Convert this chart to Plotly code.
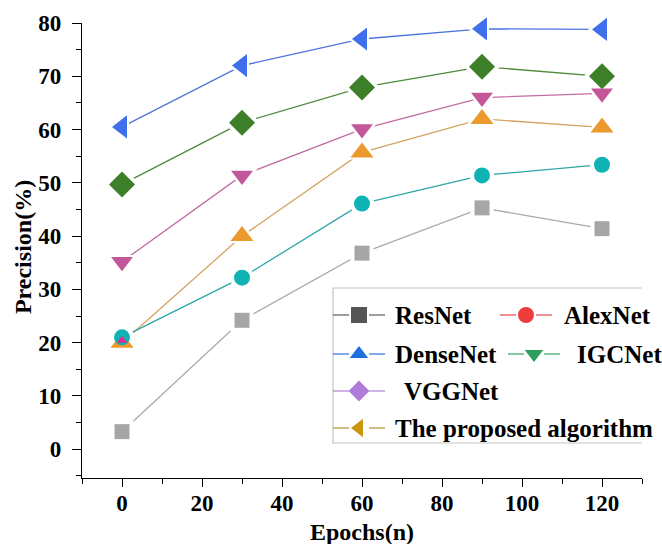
import plotly.graph_objects as go

# Epoch values and precision (%) for each network
epochs = [0, 30, 60, 90, 120]
resnet = [3.3, 24.2, 36.8, 45.3, 41.4]
alexnet = [21.0, 32.2, 46.1, 51.4, 53.4]
densenet = [60.5, 72.0, 77.0, 78.9, 78.8]
igcnet = [49.7, 61.3, 67.9, 71.8, 70.0]
vggnet = [35.2, 51.4, 60.1, 66.0, 66.8]
proposed = [20.0, 40.0, 55.7, 62.0, 60.4]
extra_x = [0]
extra_y = [20.4]

x_ticks = [0, 20, 40, 60, 80, 100, 120]
y_ticks = [0, 10, 20, 30, 40, 50, 60, 70, 80]

FONT = "Liberation Serif"

# drawing order: later entries sit on top
series = [
    ("ResNet", resnet, "square", "#A6A6A6", "#AAAAAA", 15),
    ("The proposed algorithm", proposed, "triangle-up", "#EB9A2E", "#D4A462", 20),
    ("AlexNet", alexnet, "circle", "#0FB3B3", "#2FA6A6", 16),
    ("DenseNet", densenet, "triangle-left", "#3F6FEA", "#4B74E0", 20),
    ("IGCNet", igcnet, "diamond", "#3E7F2A", "#4E8A3C", 20),
    ("VGGNet", vggnet, "triangle-down", "#C4579A", "#C26CA2", 19),
]

fig = go.Figure()
# connecting lines, each with a white halo so it stops short of its symbols
for name, ys, sym, mcol, lcol, size in series:
    fig.add_trace(go.Scatter(
        x=epochs, y=ys, mode="lines", name=name, showlegend=False,
        line=dict(color=lcol, width=1.3), cliponaxis=False,
    ))
    fig.add_trace(go.Scatter(
        x=epochs, y=ys, mode="markers", showlegend=False, hoverinfo="skip",
        marker=dict(symbol=sym, size=size + 8, color="white"),
        cliponaxis=False,
    ))
# symbols drawn above every line
for name, ys, sym, mcol, lcol, size in series:
    fig.add_trace(go.Scatter(
        x=epochs, y=ys, mode="markers", name=name, showlegend=False,
        marker=dict(symbol=sym, size=size, color=mcol),
        cliponaxis=False,
    ))

fig.add_trace(go.Scatter(
    x=extra_x, y=extra_y, mode="markers", showlegend=False,
    marker=dict(symbol="triangle-up", size=9, color="#E0288E"),
    cliponaxis=False,
))

# Hand-built legend on an overlay axis measured in figure pixels
legend_items = [
    ("ResNet", "square", "#555555", "#6A6A6A", 333, 315, 393),
    ("AlexNet", "circle", "#EE3B3B", "#E25555", 500, 315, 562),
    ("DenseNet", "triangle-up", "#1E6FE0", "#3A7BE0", 333, 354, 393),
    ("IGCNet", "triangle-down", "#2E9E5E", "#4AA874", 508, 354, 575),
    ("VGGNet", "diamond", "#B07CDA", "#B48AD8", 333, 391, 402),
    ("The proposed algorithm", "triangle-left", "#C9960C", "#B89A40", 333, 428, 393),
]
for label, sym, mcol, lcol, x0, yy, tx in legend_items:
    fig.add_trace(go.Scatter(
        x=[x0, x0 + 16], y=[yy, yy], mode="lines", xaxis="x2", yaxis="y2",
        line=dict(color=lcol, width=1.3), showlegend=False, cliponaxis=False,
    ))
    fig.add_trace(go.Scatter(
        x=[x0 + 36, x0 + 52], y=[yy, yy], mode="lines", xaxis="x2", yaxis="y2",
        line=dict(color=lcol, width=1.3), showlegend=False, cliponaxis=False,
    ))
    fig.add_trace(go.Scatter(
        x=[x0 + 26], y=[yy], mode="markers", xaxis="x2", yaxis="y2",
        marker=dict(symbol=sym, size=16, color=mcol),
        showlegend=False, cliponaxis=False,
    ))
    fig.add_annotation(
        x=tx, y=yy, xref="x2", yref="y2", text="<b>%s</b>" % label, showarrow=False,
        xanchor="left", yanchor="middle",
        font=dict(family=FONT, size=25, color="black"),
    )

fig.add_shape(type="rect", xref="x2", yref="y2", x0=333, x1=660, y0=288, y1=443,
              line=dict(color="#C4C4C4", width=1.2), fillcolor="white", layer="below")

# axis titles
title_font = dict(family=FONT, size=24, color="black")
fig.add_annotation(x=0.5, y=-0.119, xref="paper", yref="paper", text="<b>Epochs(n)</b>",
                   showarrow=False, xanchor="center", yanchor="middle", font=title_font)
fig.add_annotation(x=-0.105, y=0.508, xref="paper", yref="paper", text="<b>Precision(%)</b>",
                   showarrow=False, xanchor="center", yanchor="middle", textangle=-90,
                   font=title_font)

axis_font = dict(family=FONT, size=23, color="black", weight="bold")
fig.update_layout(
    width=662, height=544,
    margin=dict(l=82, r=20, t=23, b=66, autoexpand=False),
    paper_bgcolor="white", plot_bgcolor="white",
    font=dict(family=FONT, color="black"),
    xaxis=dict(
        range=[-10, 130], tickvals=x_ticks, ticktext=[str(v) for v in x_ticks],
        ticks="outside", ticklen=8, tickwidth=1.3, tickcolor="black",
        minor=dict(dtick=10, tick0=0, ticks="outside", ticklen=5, tickwidth=1.3, tickcolor="black"),
        showline=True, linecolor="black", linewidth=1.3, showgrid=False, zeroline=False,
        tickfont=axis_font, ticklabelstandoff=-4, automargin=False,
    ),
    yaxis=dict(
        range=[-5.4, 80], tickvals=y_ticks, ticktext=[str(v) for v in y_ticks],
        ticks="outside", ticklen=9, tickwidth=1.3, tickcolor="black",
        minor=dict(dtick=5, tick0=0, ticks="outside", ticklen=5, tickwidth=1.3, tickcolor="black"),
        showline=True, linecolor="black", linewidth=1.3, showgrid=False, zeroline=False,
        tickfont=axis_font, ticklabelstandoff=6, automargin=False,
    ),
    xaxis2=dict(overlaying="x", range=[82, 642], visible=False, fixedrange=True),
    yaxis2=dict(overlaying="y", range=[478, 23], visible=False, fixedrange=True),
)

fig.write_html("out.html")
